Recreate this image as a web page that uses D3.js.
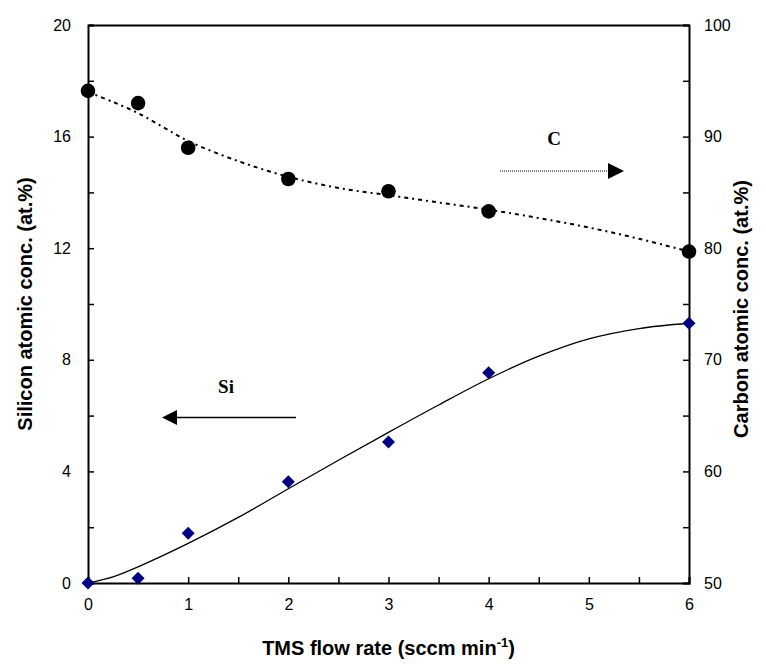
<!DOCTYPE html>
<html><head><meta charset="utf-8">
<script src="https://cdn.jsdelivr.net/npm/d3@7"></script>
<style>body{margin:0;background:#fff}svg{display:block}</style>
</head><body>
<script>
// ---- data ----
const flowRate = [0, 0.5, 1, 2, 3, 4, 6];
const siliconConc = [0, 0.17, 1.78, 3.63, 5.05, 7.54, 9.31];
const carbonConc = [94.1, 93.0, 89.0, 86.2, 85.1, 83.3, 79.7];
// trendlines
const siFitX = [0, 0.25, 0.5, 1, 1.5, 2, 2.5, 3, 3.5, 4, 4.5, 5, 5.5, 6];
const siFitY = [0, 0.22, 0.58, 1.42, 2.35, 3.38, 4.4, 5.4, 6.38, 7.32, 8.13, 8.75, 9.12, 9.31];
const cFitX = [0, 0.25, 0.5, 0.75, 1, 1.5, 2, 2.5, 3, 3.5, 4, 4.5, 5, 5.5, 6];
const cFitY = [94.0, 93.1, 92.1, 90.85, 89.6, 87.8, 86.4, 85.4, 84.75, 84.1, 83.45, 82.7, 81.85, 80.85, 79.7];
const xTicks = [0, 1, 2, 3, 4, 5, 6];
const leftTicks = [0, 4, 8, 12, 16, 20];
const rightTicks = [50, 60, 70, 80, 90, 100];

const W = 766, H = 671;
const L = 88, R = 689, T = 25, B = 583;
const svg = d3.select("body").append("svg").attr("width", W).attr("height", H);

const x = d3.scaleLinear().domain([0, 6]).range([L, R]);
const yL = d3.scaleLinear().domain([0, 20]).range([B, T]);
const yR = d3.scaleLinear().domain([50, 100]).range([B, T]);

svg.append("defs").append("clipPath").attr("id", "clip")
  .append("rect").attr("x", L).attr("y", T).attr("width", R - L).attr("height", B - T);

const font = "Liberation Sans, Arial, sans-serif";

// axes
const gx = svg.append("g").attr("transform", `translate(0,${B})`)
  .call(d3.axisBottom(x).tickValues(d3.range(0, 6.01, 0.5)).tickSize(-6).tickFormat(d => xTicks.includes(d) ? d : ""));
const gl = svg.append("g").attr("transform", `translate(${L},0)`)
  .call(d3.axisLeft(yL).tickValues(d3.range(0, 20.01, 2)).tickSize(-6).tickFormat(d => leftTicks.includes(d) ? d : ""));
const gr = svg.append("g").attr("transform", `translate(${R},0)`)
  .call(d3.axisRight(yR).tickValues(d3.range(50, 100.01, 5)).tickSize(-6).tickFormat(d => rightTicks.includes(d) ? d : ""));
const gt = svg.append("g").attr("transform", `translate(0,${T})`)
  .call(d3.axisTop(x).tickValues([]).tickSizeOuter(0));

[gx, gl, gr, gt].forEach(g => {
  g.select(".domain").attr("stroke", "#000").attr("stroke-width", 2);
  g.selectAll(".tick line").attr("stroke", "#000").attr("stroke-width", 1.5);
  g.selectAll("text").attr("font-family", font).attr("font-size", 16).attr("fill", "#000");
});
gx.selectAll("text").attr("dy", "0.71em").attr("y", 16);
gl.selectAll("text").attr("x", -17);
gr.selectAll("text").attr("x", 15);

// trendlines
const g = svg.append("g").attr("clip-path", "url(#clip)");
g.append("path")
  .datum(siFitX.map((d, i) => [d, siFitY[i]]))
  .attr("fill", "none").attr("stroke", "#000").attr("stroke-width", 1.3)
  .attr("d", d3.line().x(d => x(d[0])).y(d => yL(d[1])).curve(d3.curveCatmullRom));
g.append("path")
  .datum(cFitX.map((d, i) => [d, cFitY[i]]))
  .attr("fill", "none").attr("stroke", "#000").attr("stroke-width", 2)
  .attr("stroke-dasharray", "4,4,2,4")
  .attr("d", d3.line().x(d => x(d[0])).y(d => yR(d[1])).curve(d3.curveCatmullRom));

// markers
svg.append("g").selectAll("circle").data(flowRate).join("circle")
  .attr("cx", d => x(d)).attr("cy", (d, i) => yR(carbonConc[i])).attr("r", 7.3).attr("fill", "#000");
const ds = 6.5;
svg.append("g").selectAll("path").data(flowRate).join("path")
  .attr("transform", (d, i) => `translate(${x(d)},${yL(siliconConc[i])})`)
  .attr("d", `M0,${-ds}L${ds},0L0,${ds}L${-ds},0Z`).attr("fill", "#000080");

// annotations
svg.append("line").attr("x1", 500).attr("x2", 609).attr("y1", 171).attr("y2", 171)
  .attr("stroke", "#000").attr("stroke-width", 1.2).attr("stroke-dasharray", "1,1");
svg.append("path").attr("d", "M608,163L624,171L608,179Z").attr("fill", "#000");
svg.append("text").attr("x", 554).attr("y", 145).attr("text-anchor", "middle")
  .attr("font-family", "Liberation Serif, Times New Roman, serif").attr("font-weight", "bold").attr("font-size", 19).text("C");

svg.append("line").attr("x1", 296).attr("x2", 174).attr("y1", 417.5).attr("y2", 417.5)
  .attr("stroke", "#000").attr("stroke-width", 1.5);
svg.append("path").attr("d", "M162,417.5L177,410L177,425Z").attr("fill", "#000");
svg.append("text").attr("x", 226).attr("y", 393).attr("text-anchor", "middle")
  .attr("font-family", "Liberation Serif, Times New Roman, serif").attr("font-weight", "bold").attr("font-size", 19).text("Si");

// axis titles
svg.append("text").attr("transform", `translate(32,${(T + B) / 2}) rotate(-90)`).attr("text-anchor", "middle")
  .attr("font-family", font).attr("font-weight", "bold").attr("font-size", 20).text("Silicon atomic conc. (at.%)");
svg.append("text").attr("transform", `translate(748,${(T + B) / 2 + 5}) rotate(-90)`).attr("text-anchor", "middle")
  .attr("font-family", font).attr("font-weight", "bold").attr("font-size", 20).text("Carbon atomic conc. (at.%)");
const xt = svg.append("text").attr("x", (L + R) / 2).attr("y", 655).attr("text-anchor", "middle")
  .attr("font-family", font).attr("font-weight", "bold").attr("font-size", 20);
xt.append("tspan").text("TMS flow rate (sccm min");
xt.append("tspan").attr("font-size", 13).attr("dy", -8).text("-1");
xt.append("tspan").attr("dy", 8).text(")");
</script>
</body></html>
